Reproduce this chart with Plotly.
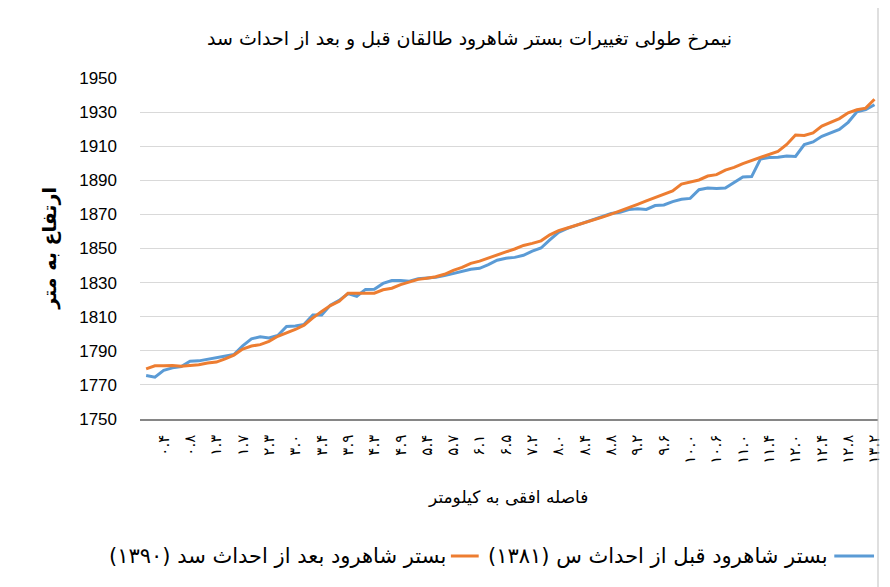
import plotly.graph_objects as go

# x tick labels (horizontal distance, km) - one label every 3 points
tick_labels = ["۰.۴", "۰.۸", "۱.۳", "۱.۷", "۲.۳", "۳.۰", "۳.۴", "۳.۹", "۴.۳", "۴.۹",
               "۵.۴", "۵.۷", "۶.۱", "۶.۵", "۷.۲", "۸.۰", "۸.۴", "۸.۸", "۹.۲", "۹.۶",
               "۱۰.۰", "۱۰.۶", "۱۱.۰", "۱۱.۴", "۱۲.۰", "۱۲.۴", "۱۲.۸", "۱۳.۲"]

# bed elevation after dam (1390)
after_1390 = [1779.4, 1781.2, 1781.3, 1781.4, 1781.0, 1781.3, 1781.8, 1782.8, 1783.4, 1785.3,
              1787.5, 1791.0, 1792.8, 1793.6, 1795.5, 1798.5, 1800.4, 1802.5, 1805.0, 1809.3,
              1813.0, 1816.5, 1819.0, 1823.8, 1823.8, 1823.8, 1823.8, 1825.8, 1826.7, 1828.8,
              1830.3, 1831.9, 1832.6, 1833.4, 1834.9, 1837.2, 1838.9, 1841.3, 1842.6, 1844.5,
              1846.3, 1848.0, 1849.7, 1851.8, 1853.0, 1854.5, 1858.0, 1860.5, 1862.0, 1863.5,
              1865.0, 1866.7, 1868.4, 1870.2, 1872.0, 1874.0, 1875.9, 1877.9, 1879.8, 1881.5,
              1883.8, 1887.8, 1889.2, 1890.2, 1892.5, 1893.3, 1896.0, 1897.6, 1899.8, 1901.5,
              1903.2, 1905.0, 1907.0, 1911.0, 1916.6, 1916.3, 1917.8, 1921.8, 1924.0, 1926.2,
              1929.6, 1931.4, 1932.3, 1937.5]

# bed elevation before dam (1381)
before_1381 = [1775.5, 1774.5, 1778.5, 1780.0, 1780.8, 1783.9, 1784.1, 1785.0, 1785.8, 1786.5,
               1787.8, 1792.9, 1797.0, 1798.2, 1797.5, 1799.0, 1804.3, 1804.6, 1805.5, 1811.0,
               1811.0, 1816.8, 1819.6, 1823.5, 1822.0, 1826.0, 1826.1, 1829.5, 1831.2, 1831.2,
               1830.8, 1832.2, 1832.6, 1833.1, 1834.1, 1835.4, 1836.5, 1837.8, 1838.4, 1840.5,
               1843.1, 1844.3, 1844.8, 1846.0, 1848.5, 1850.3, 1855.0, 1859.5, 1861.8, 1863.5,
               1865.2, 1867.0, 1869.0, 1870.5, 1871.3, 1872.8, 1873.3, 1872.9, 1875.2, 1875.5,
               1877.5, 1878.9, 1879.4, 1884.5, 1885.5, 1885.2, 1885.5, 1888.5, 1892.0, 1892.2,
               1902.5, 1903.3, 1903.5, 1904.2, 1904.0, 1911.0, 1912.5, 1915.8, 1917.8, 1919.8,
               1924.0, 1930.2, 1931.5, 1934.3]

idx = list(range(len(after_1390)))
tick_vals = [3 * j + 2 for j in range(len(tick_labels))]

BLUE = "#5B9BD5"
ORANGE = "#ED7D31"
FA = "DejaVu Sans"

title_txt = "نیمرخ طولی تغییرات بستر شاهرود طالقان قبل و بعد از احداث سد"
ytitle_txt = "ارتفاع به متر"
xtitle_txt = "فاصله افقی به کیلومتر"
after_txt = "بستر شاهرود بعد از احداث سد (۱۳۹۰)"
before_txt = "بستر شاهرود قبل از احداث س (۱۳۸۱)"


def px(x):
    return (x - 140) / 743


def py(y):
    return (419 - y) / 341


fig = go.Figure()
fig.add_trace(go.Scatter(x=idx, y=before_1381, mode="lines",
                         line=dict(color=BLUE, width=3), showlegend=False))
fig.add_trace(go.Scatter(x=idx, y=after_1390, mode="lines",
                         line=dict(color=ORANGE, width=3), showlegend=False))

# page has an 8px body margin, so the figure is 8px smaller than the window
fig.update_layout(
    width=882, height=579,
    margin=dict(l=132, r=7, t=70, b=168),
    paper_bgcolor="white", plot_bgcolor="white",
    xaxis=dict(range=[-0.7, 83.4], tickvals=tick_vals, ticktext=tick_labels,
               tickangle=-90, showgrid=False, zeroline=False,
               showline=True, linecolor="#868686", linewidth=1.5,
               ticks="", ticklabelstandoff=8,
               tickfont=dict(family=FA, size=15, color="#000000")),
    yaxis=dict(range=[1750, 1950], tick0=1750, dtick=20, showgrid=True,
               gridcolor="#d9d9d9", gridwidth=1, zeroline=False, showline=False,
               ticks="", ticklabelstandoff=22,
               tickfont=dict(family="Liberation Sans, Arial", size=17, color="#000000")),
)

leg_y = py(556)
leg_font = dict(family=FA, size=21, color="#000000")
annotations = [
    dict(text=title_txt, x=px(472), y=py(38), xref="paper", yref="paper",
         yanchor="middle", showarrow=False,
         font=dict(family=FA, size=19, color="#000000")),
    dict(text="<b>" + ytitle_txt + "</b>", textangle=-90,
         x=px(35), y=0.5, xref="paper", yref="paper", showarrow=False,
         font=dict(family=FA, size=19, color="#000000")),
    dict(text=xtitle_txt, x=px(510), y=py(497), xref="paper", yref="paper",
         yanchor="middle", showarrow=False,
         font=dict(family=FA, size=17, color="#000000")),
    dict(text=after_txt, x=px(450), y=leg_y, xref="paper", yref="paper",
         xanchor="right", yanchor="middle", showarrow=False, font=leg_font),
    dict(text=before_txt, x=px(835), y=leg_y, xref="paper", yref="paper",
         xanchor="right", yanchor="middle", showarrow=False, font=leg_font),
]
fig.update_layout(annotations=annotations)

shapes = [
    dict(type="line", xref="paper", yref="paper", x0=px(453), x1=px(481),
         y0=leg_y, y1=leg_y, line=dict(color=ORANGE, width=3)),
    dict(type="line", xref="paper", yref="paper", x0=px(839), x1=px(879),
         y0=leg_y, y1=leg_y, line=dict(color=BLUE, width=3)),
    dict(type="rect", xref="paper", yref="paper",
         x0=px(6), x1=px(883), y0=-0.52, y1=1.25,
         line=dict(color="#bfbfbf", width=1)),
]
fig.update_layout(shapes=shapes)

fig.write_html("out.html")
